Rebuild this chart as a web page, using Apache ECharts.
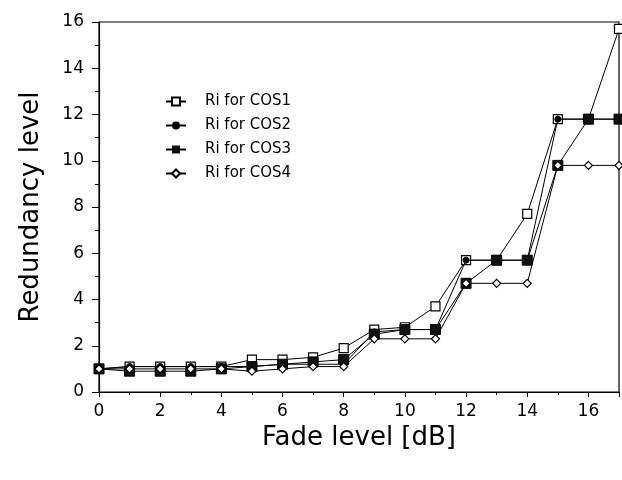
<!DOCTYPE html>
<html lang="en">
<head>
    <meta charset="UTF-8">
    <title>Redundancy vs fade level</title>
    <script src="https://cdn.jsdelivr.net/npm/echarts@6/dist/echarts.min.js"></script>
    <style>
        body { margin: 0; background: #fff; }
    </style>
</head>
<body>
    <div id="chart" style="width: 622px; height: 480px;"></div>
    <script type="text/javascript">
        // fade level in dB
        const fade = [0, 1, 2, 3, 4, 5, 6, 7, 8, 9, 10, 11, 12, 13, 14, 15, 16, 17];

        const cos1 = [1.0, 1.1, 1.1, 1.1, 1.1, 1.4, 1.4, 1.5, 1.9, 2.7, 2.8, 3.7, 5.7, 5.7, 7.7, 11.8, 11.8, 15.7];
        const cos2 = [1.0, 1.1, 1.1, 1.1, 1.1, 1.1, 1.2, 1.2, 1.2, 2.6, 2.7, 2.7, 5.7, 5.7, 5.7, 11.8, 11.8, 11.8];
        const cos3 = [1.0, 0.9, 0.9, 0.9, 1.0, 1.1, 1.2, 1.3, 1.4, 2.5, 2.7, 2.7, 4.7, 5.7, 5.7, 9.8, 11.8, 11.8];
        const cos4 = [1.0, 1.0, 1.0, 1.0, 1.0, 0.9, 1.0, 1.1, 1.1, 2.3, 2.3, 2.3, 4.7, 4.7, 4.7, 9.8, 9.8, 9.8];

        const names = ['Ri for COS1', 'Ri for COS2', 'Ri for COS3', 'Ri for COS4'];
        const values = [cos1, cos2, cos3, cos4];

        const font = 'DejaVu Sans';
        const markers = [
            { symbol: 'rect', symbolSize: 9, itemStyle: { color: '#fff', borderColor: '#000', borderWidth: 1.2 } },
            { symbol: 'circle', symbolSize: 6, itemStyle: { color: '#000', borderColor: '#000' } },
            { symbol: 'rect', symbolSize: 10, itemStyle: { color: '#111', borderColor: '#000' } },
            { symbol: 'diamond', symbolSize: 8, itemStyle: { color: '#fff', borderColor: '#000', borderWidth: 1.2 } }
        ];

        let chart = echarts.init(document.getElementById('chart'), null, { renderer: 'canvas' });

        chart.setOption({
            animation: false,
            backgroundColor: '#fff',
            grid: {
                left: 99, right: 2, top: 22, bottom: 88,
                show: true, borderColor: '#000', borderWidth: 1.2
            },
            legend: {
                orient: 'vertical',
                left: 160, top: 89,
                itemWidth: 20, itemHeight: 10, itemGap: 9,
                data: names,
                textStyle: { fontFamily: font, fontSize: 15, color: '#000', padding: [0, 0, 0, 14] }
            },
            xAxis: {
                type: 'value',
                min: 0, max: 17, interval: 2,
                name: 'Fade level [dB]',
                nameLocation: 'middle',
                nameGap: 32,
                nameTextStyle: { fontFamily: font, fontSize: 26, color: '#000' },
                axisLine: { lineStyle: { color: '#000', width: 1.2 } },
                axisTick: { length: 5, lineStyle: { color: '#000' } },
                minorTick: { show: true, splitNumber: 2, length: 3, lineStyle: { color: '#000' } },
                splitLine: { show: false },
                axisLabel: {
                    fontFamily: font, fontSize: 17, color: '#000', margin: 11,
                    formatter: v => (v % 2 === 0 ? String(v) : '')
                }
            },
            yAxis: {
                type: 'value',
                min: 0, max: 16, interval: 2,
                name: 'Redundancy level',
                nameLocation: 'middle',
                nameGap: 55,
                nameTextStyle: { fontFamily: font, fontSize: 26, color: '#000' },
                axisLine: { lineStyle: { color: '#000', width: 1.2 } },
                axisTick: { length: 7, lineStyle: { color: '#000' } },
                minorTick: { show: true, splitNumber: 2, length: 4, lineStyle: { color: '#000' } },
                splitLine: { show: false },
                axisLabel: { fontFamily: font, fontSize: 17, color: '#000', margin: 15 }
            },
            series: names.map((name, i) => ({
                name: name,
                type: 'line',
                data: fade.map((x, j) => [x, values[i][j]]),
                symbol: markers[i].symbol,
                symbolSize: markers[i].symbolSize,
                showAllSymbol: true,
                clip: false,
                lineStyle: { color: '#000', width: 1 },
                itemStyle: markers[i].itemStyle,
                z: 2 + i
            }))
        });
    </script>
</body>
</html>
